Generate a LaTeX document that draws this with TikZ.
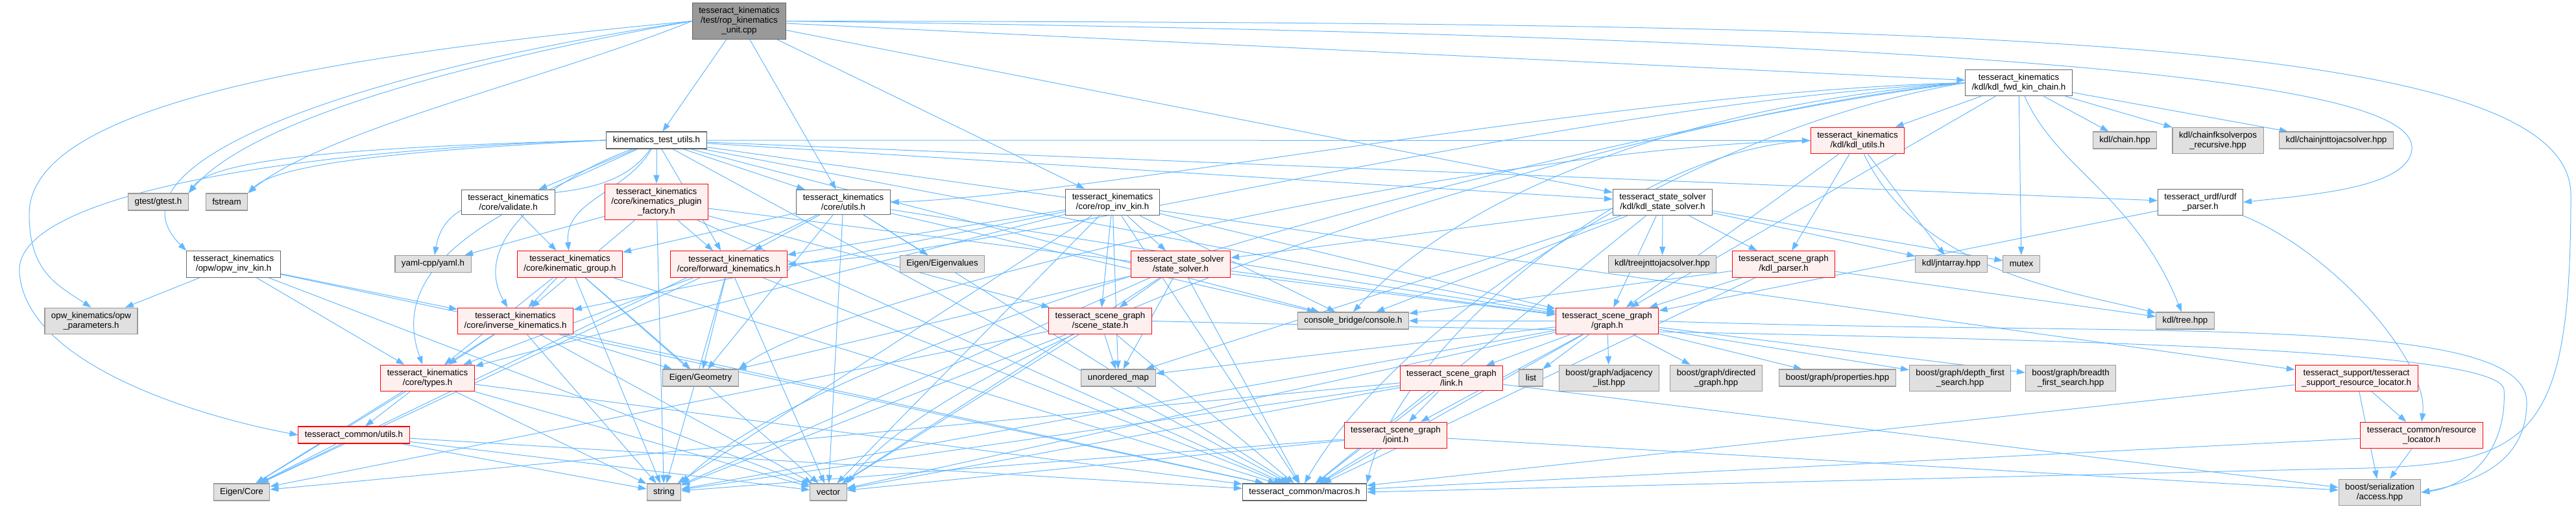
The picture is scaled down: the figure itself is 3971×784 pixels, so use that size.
\documentclass[tikz,border=0pt]{standalone}
\usepackage{fontspec}
\setmainfont{Liberation Sans}
\usepackage{xcolor}
\usepackage{tikz}
\usetikzlibrary{arrows.meta,backgrounds}
\definecolor{IncBlue}{HTML}{63B8FF}
\definecolor{IncFrame}{HTML}{666666}
\definecolor{IncRoot}{HTML}{999999}
\definecolor{IncRed}{HTML}{FF0000}
\definecolor{IncPink}{HTML}{FFF0F0}
\definecolor{IncGrey}{HTML}{999999}
\definecolor{IncLight}{HTML}{E0E0E0}
\newcommand{\incfont}{\fontsize{10}{11.25}\selectfont}
\tikzset{
  incbox/.style={draw=IncFrame,fill=white,align=center,font=\incfont,inner xsep=7.5pt,inner ysep=5pt,minimum height=19.5pt,line width=0.8pt},
  rootbox/.style={incbox,fill=IncRoot},
  truncbox/.style={incbox,draw=IncRed,fill=IncPink},
  extbox/.style={incbox,draw=IncGrey,fill=IncLight},
  incarrow/.style={-{Stealth[length=3.4mm,width=2.4mm,inset=0pt]},line width=0.75pt,draw=IncBlue}
}

\begin{document}
\begin{tikzpicture}[x=0.75pt,y=-0.75pt]
\useasboundingbox (0,0) rectangle (3971,784);
% top rows
\node[rootbox] (unit) at (1139.5,32.5) {tesseract\_kinematics\\/test/rop\_kinematics\\\_unit.cpp};
\node[incbox] (testutils) at (1012,216) {kinematics\_test\_utils.h};
\node[incbox] (fwdchain) at (3112,127.5) {tesseract\_kinematics\\/kdl/kdl\_fwd\_kin\_chain.h};
\node[truncbox] (kdlutils) at (2863.5,216.5) {tesseract\_kinematics\\/kdl/kdl\_utils.h};
\node[extbox] (kdlchain) at (3275.5,216) {kdl/chain.hpp};
\node[extbox] (chainfk) at (3419,216.5) {kdl/chainfksolverpos\\\_recursive.hpp};
\node[extbox] (chainjac) at (3601.5,216) {kdl/chainjnttojacsolver.hpp};
\node[extbox] (gtest) at (244,311) {gtest/gtest.h};
\node[extbox] (fstream) at (349.5,311) {fstream};
\node[incbox] (validate) at (783.5,311.5) {tesseract\_kinematics\\/core/validate.h};
\node[truncbox] (plugfactory) at (1012,311) {tesseract\_kinematics\\/core/kinematics\_plugin\\\_factory.h};
\node[incbox] (coreutils) at (1300,311.5) {tesseract\_kinematics\\/core/utils.h};
\node[incbox] (ropinv) at (1715,311.5) {tesseract\_kinematics\\/core/rop\_inv\_kin.h};
\node[incbox] (kdlstate) at (2563,311.5) {tesseract\_state\_solver\\/kdl/kdl\_state\_solver.h};
\node[incbox] (urdf) at (3392,311.5) {tesseract\_urdf/urdf\\\_parser.h};
% middle rows
\node[incbox] (opwinv) at (360,407) {tesseract\_kinematics\\/opw/opw\_inv\_kin.h};
\node[extbox] (yaml) at (667.5,406.5) {yaml-cpp/yaml.h};
\node[truncbox] (kingroup) at (878.5,407) {tesseract\_kinematics\\/core/kinematic\_group.h};
\node[truncbox] (fwdkin) at (1123.5,407) {tesseract\_kinematics\\/core/forward\_kinematics.h};
\node[extbox] (eigvals) at (1452.5,406.5) {Eigen/Eigenvalues};
\node[truncbox] (statesolver) at (1820,407) {tesseract\_state\_solver\\/state\_solver.h};
\node[extbox] (treejac) at (2562.5,406.5) {kdl/treejnttojacsolver.hpp};
\node[truncbox] (kdlparser) at (2749.5,407) {tesseract\_scene\_graph\\/kdl\_parser.h};
\node[extbox] (jntarray) at (3008,406.5) {kdl/jntarray.hpp};
\node[extbox] (mutex) at (3116,406.5) {mutex};
\node[extbox] (opwparams) at (140.5,494.5) {opw\_kinematics/opw\\\_parameters.h};
\node[truncbox] (invkin) at (794.5,494.5) {tesseract\_kinematics\\/core/inverse\_kinematics.h};
\node[truncbox] (scenestate) at (1696,494.5) {tesseract\_scene\_graph\\/scene\_state.h};
\node[extbox] (console) at (2086,494) {console\_bridge/console.h};
\node[truncbox] (graph) at (2477.5,494.5) {tesseract\_scene\_graph\\/graph.h};
\node[extbox] (kdltree) at (3368.5,494) {kdl/tree.hpp};
\node[truncbox] (types) at (659,582.5) {tesseract\_kinematics\\/core/types.h};
\node[extbox] (eiggeo) at (1080,582) {Eigen/Geometry};
\node[extbox] (umap) at (1724,582) {unordered\_map};
\node[truncbox] (link) at (2237.5,582.5) {tesseract\_scene\_graph\\/link.h};
\node[extbox] (list) at (2360,582) {list};
\node[extbox] (adjlist) at (2480.5,582.5) {boost/graph/adjacency\\\_list.hpp};
\node[extbox] (dirgraph) at (2645.5,582.5) {boost/graph/directed\\\_graph.hpp};
\node[extbox] (props) at (2832.5,582) {boost/graph/properties.hpp};
\node[extbox] (dfs) at (3021.5,582.5) {boost/graph/depth\_first\\\_search.hpp};
\node[extbox] (bfs) at (3192,582.5) {boost/graph/breadth\\\_first\_search.hpp};
\node[truncbox] (supportloc) at (3632.5,582.5) {tesseract\_support/tesseract\\\_support\_resource\_locator.h};
% bottom rows
\node[truncbox] (commonutils) at (545.5,670) {tesseract\_common/utils.h};
\node[truncbox] (joint) at (2151.5,670.5) {tesseract\_scene\_graph\\/joint.h};
\node[truncbox] (resloc) at (3733,670.5) {tesseract\_common/resource\\\_locator.h};
\node[extbox] (eigcore) at (372.5,758) {Eigen/Core};
\node[extbox] (string) at (1023.5,758) {string};
\node[extbox] (vector) at (1277,758) {vector};
\node[incbox] (macros) at (2011,758) {tesseract\_common/macros.h};
\node[extbox] (access) at (3668.5,758.5) {boost/serialization\\/access.hpp};

\begin{scope}[on background layer]
% includes of the test file
\draw[incarrow] (unit.west) .. controls (800,80) and (400,170) .. (gtest.north east);
\draw[incarrow] (unit.west) .. controls (850,120) and (500,200) .. (fstream.north east);
\draw[incarrow] (unit.west) .. controls (450,90) and (45,170) .. (45,330) .. controls (45,420) and (90,440) .. (opwparams.north);
\draw[incarrow] (unit.west) .. controls (550,110) and (150,250) .. (opwinv.north west);
\draw[incarrow] (unit) -- (testutils);
\draw[incarrow] (unit) -- (coreutils);
\draw[incarrow] (unit) -- (ropinv);
\draw[incarrow] (unit) -- (kdlstate);
\draw[incarrow] (unit) -- (fwdchain);
\draw[incarrow] (unit.east) .. controls (3300,60) and (3725,140) .. (3718,230) .. controls (3712,290) and (3560,300) .. (urdf.east);
\draw[incarrow] (unit.east) .. controls (3000,35) and (3963,50) .. (3963,300) .. controls (3963,690) and (3900,718) .. (3600,722) -- (macros.east);
% kinematics_test_utils.h
\draw[incarrow] (testutils.west) .. controls (600,225) and (330,240) .. (gtest.north east);
\draw[incarrow] (testutils.west) .. controls (650,230) and (430,250) .. (fstream.north east);
\draw[incarrow] (testutils) -- (validate);
\draw[incarrow] (testutils) -- (plugfactory);
\draw[incarrow] (testutils) -- (coreutils);
\draw[incarrow] (testutils) to[out=235,in=80] (yaml);
\draw[incarrow] (testutils) to[out=240,in=95] (kingroup);
\draw[incarrow] (testutils) -- (fwdkin);
\draw[incarrow] (testutils) to[out=200,in=120] (invkin);
\draw[incarrow] (testutils) to[out=205,in=110] (types);
\draw[incarrow] (testutils.west) .. controls (450,230) and (20,300) .. (30,420) .. controls (40,560) and (300,640) .. (commonutils.west);
\draw[incarrow] (testutils) -- (kdlutils);
\draw[incarrow] (testutils) -- (kdlstate);
\draw[incarrow] (testutils) -- (graph);
\draw[incarrow] (testutils) -- (urdf);
\draw[incarrow] (testutils) -- (supportloc);
\draw[incarrow] (testutils) -- (console);
\draw[incarrow] (testutils) -- (macros);
% kinematics_plugin_factory.h
\draw[incarrow] (plugfactory) -- (yaml);
\draw[incarrow] (plugfactory) -- (invkin);
\draw[incarrow] (plugfactory) -- (fwdkin);
\draw[incarrow] (plugfactory) -- (string);
\draw[incarrow] (plugfactory) -- (scenestate);
\draw[incarrow] (plugfactory) -- (graph);
\draw[incarrow] (plugfactory) -- (macros);
% validate.h
\draw[incarrow] (validate) -- (kingroup);
% core/utils.h
\draw[incarrow] (coreutils) -- (kingroup);
\draw[incarrow] (coreutils) -- (fwdkin);
\draw[incarrow] (coreutils) -- (eigvals);
\draw[incarrow] (coreutils) -- (eiggeo);
\draw[incarrow] (coreutils) -- (eigcore);
\draw[incarrow] (coreutils) -- (vector);
\draw[incarrow] (coreutils) -- (console);
\draw[incarrow] (coreutils) -- (graph);
\draw[incarrow] (coreutils) -- (macros);
% rop_inv_kin.h
\draw[incarrow] (ropinv) -- (fwdkin);
\draw[incarrow] (ropinv) -- (invkin);
\draw[incarrow] (ropinv) -- (types);
\draw[incarrow] (ropinv) -- (scenestate);
\draw[incarrow] (ropinv) -- (statesolver);
\draw[incarrow] (ropinv) -- (umap);
\draw[incarrow] (ropinv) -- (graph);
\draw[incarrow] (ropinv) -- (console);
\draw[incarrow] (ropinv) -- (string);
\draw[incarrow] (ropinv) -- (vector);
\draw[incarrow] (ropinv) -- (macros);
% kdl_state_solver.h
\draw[incarrow] (kdlstate) -- (statesolver);
\draw[incarrow] (kdlstate) -- (treejac);
\draw[incarrow] (kdlstate) -- (kdlparser);
\draw[incarrow] (kdlstate) -- (jntarray);
\draw[incarrow] (kdlstate) -- (mutex);
\draw[incarrow] (kdlstate) -- (graph);
\draw[incarrow] (kdlstate) -- (umap);
\draw[incarrow] (kdlstate) -- (console);
\draw[incarrow] (kdlstate) -- (macros);
% kdl_fwd_kin_chain.h
\draw[incarrow] (fwdchain) -- (kdlutils);
\draw[incarrow] (fwdchain) -- (kdlchain);
\draw[incarrow] (fwdchain) -- (chainfk);
\draw[incarrow] (fwdchain) -- (chainjac);
\draw[incarrow] (fwdchain) -- (mutex);
\draw[incarrow] (fwdchain) .. controls (3170,260) and (3290,300) .. (kdltree);
\draw[incarrow] (fwdchain.west) .. controls (2500,140) and (1700,300) .. (coreutils.east);
\draw[incarrow] (fwdchain.west) .. controls (2400,160) and (1600,380) .. (fwdkin.east);
\draw[incarrow] (fwdchain) -- (graph);
\draw[incarrow] (fwdchain.west) .. controls (2600,160) and (2250,300) .. (console.north);
\draw[incarrow] (fwdchain.west) .. controls (2500,180) and (1500,500) .. (vector.north east);
\draw[incarrow] (fwdchain.west) .. controls (2500,190) and (1300,500) .. (string.north east);
\draw[incarrow] (fwdchain.west) .. controls (2600,200) and (2150,500) .. (macros.north);
% kdl_utils.h
\draw[incarrow] (kdlutils) -- (kdlparser);
\draw[incarrow] (kdlutils) -- (jntarray);
\draw[incarrow] (kdlutils) .. controls (2960,420) and (3200,450) .. (kdltree);
\draw[incarrow] (kdlutils) -- (graph);
\draw[incarrow] (kdlutils.west) .. controls (2300,225) and (1300,450) .. (eiggeo.north east);
\draw[incarrow] (kdlutils.west) .. controls (2500,230) and (2150,550) .. (macros.north east);
% urdf_parser.h
\draw[incarrow] (urdf) -- (graph);
\draw[incarrow] (urdf.south east) .. controls (3600,390) and (3745,560) .. (resloc.north);
% opw_inv_kin.h
\draw[incarrow] (opwinv) -- (opwparams);
\draw[incarrow] (opwinv) -- (invkin);
\draw[incarrow] (opwinv) -- (types);
\draw[incarrow] (opwinv) -- (vector);
\draw[incarrow] (opwinv) -- (macros);
% kinematic_group.h
\draw[incarrow] (kingroup) -- (invkin);
\draw[incarrow] (kingroup) -- (types);
\draw[incarrow] (kingroup) -- (eiggeo);
\draw[incarrow] (kingroup) -- (string);
\draw[incarrow] (kingroup) -- (vector);
\draw[incarrow] (kingroup) -- (macros);
% forward_kinematics.h
\draw[incarrow] (fwdkin) -- (eiggeo);
\draw[incarrow] (fwdkin) -- (eigcore);
\draw[incarrow] (fwdkin) -- (types);
\draw[incarrow] (fwdkin) -- (string);
\draw[incarrow] (fwdkin) -- (vector);
\draw[incarrow] (fwdkin) -- (macros);
% state_solver.h
\draw[incarrow] (statesolver) -- (scenestate);
\draw[incarrow] (statesolver) -- (umap);
\draw[incarrow] (statesolver) -- (graph);
\draw[incarrow] (statesolver) -- (eiggeo);
\draw[incarrow] (statesolver) -- (string);
\draw[incarrow] (statesolver) -- (vector);
\draw[incarrow] (statesolver) -- (macros);
% kdl_parser.h
\draw[incarrow] (kdlparser) -- (kdltree);
\draw[incarrow] (kdlparser) -- (graph);
\draw[incarrow] (kdlparser) -- (console);
\draw[incarrow] (kdlparser) -- (macros);
% inverse_kinematics.h
\draw[incarrow] (invkin) -- (types);
\draw[incarrow] (invkin) -- (eigcore);
\draw[incarrow] (invkin) -- (eiggeo);
\draw[incarrow] (invkin) -- (string);
\draw[incarrow] (invkin) -- (vector);
\draw[incarrow] (invkin) -- (macros);
% scene_state.h
\draw[incarrow] (scenestate) -- (umap);
\draw[incarrow] (scenestate) -- (eigcore);
\draw[incarrow] (scenestate) -- (string);
\draw[incarrow] (scenestate) -- (vector);
\draw[incarrow] (scenestate) -- (macros);
\draw[incarrow] (scenestate.east) .. controls (2800,520) and (3850,520) .. (3860,600) .. controls (3865,700) and (3800,750) .. (access.east);
% graph.h
\draw[incarrow] (graph) -- (link);
\draw[incarrow] (graph) -- (joint);
\draw[incarrow] (graph) -- (list);
\draw[incarrow] (graph) -- (adjlist);
\draw[incarrow] (graph) -- (dirgraph);
\draw[incarrow] (graph) -- (props);
\draw[incarrow] (graph) -- (dfs);
\draw[incarrow] (graph) -- (bfs);
\draw[incarrow] (graph) -- (umap);
\draw[incarrow] (graph) -- (console);
\draw[incarrow] (graph) -- (string);
\draw[incarrow] (graph) -- (vector);
\draw[incarrow] (graph) -- (macros);
\draw[incarrow] (graph.east) .. controls (3300,520) and (3895,480) .. (3895,620) .. controls (3895,720) and (3800,745) .. (access.east);
% types.h
\draw[incarrow] (types) -- (commonutils);
\draw[incarrow] (types) -- (eigcore);
\draw[incarrow] (types) -- (string);
\draw[incarrow] (types) -- (vector);
\draw[incarrow] (types) -- (macros);
% link.h
\draw[incarrow] (link) -- (joint);
\draw[incarrow] (link) -- (eigcore);
\draw[incarrow] (link) -- (string);
\draw[incarrow] (link) -- (vector);
\draw[incarrow] (link) -- (macros);
\draw[incarrow] (link) -- (access);
% tesseract_support_resource_locator.h
\draw[incarrow] (supportloc) -- (resloc);
\draw[incarrow] (supportloc) -- (access);
\draw[incarrow] (supportloc) -- (macros);
% common/utils.h
\draw[incarrow] (commonutils) -- (eigcore);
\draw[incarrow] (commonutils) -- (string);
\draw[incarrow] (commonutils) -- (vector);
\draw[incarrow] (commonutils) -- (macros);
% joint.h
\draw[incarrow] (joint) -- (string);
\draw[incarrow] (joint) -- (vector);
\draw[incarrow] (joint) -- (macros);
\draw[incarrow] (joint) -- (access);
% resource_locator.h
\draw[incarrow] (resloc) -- (access);
\draw[incarrow] (resloc) -- (macros);
\end{scope}
\end{tikzpicture}
\end{document}
